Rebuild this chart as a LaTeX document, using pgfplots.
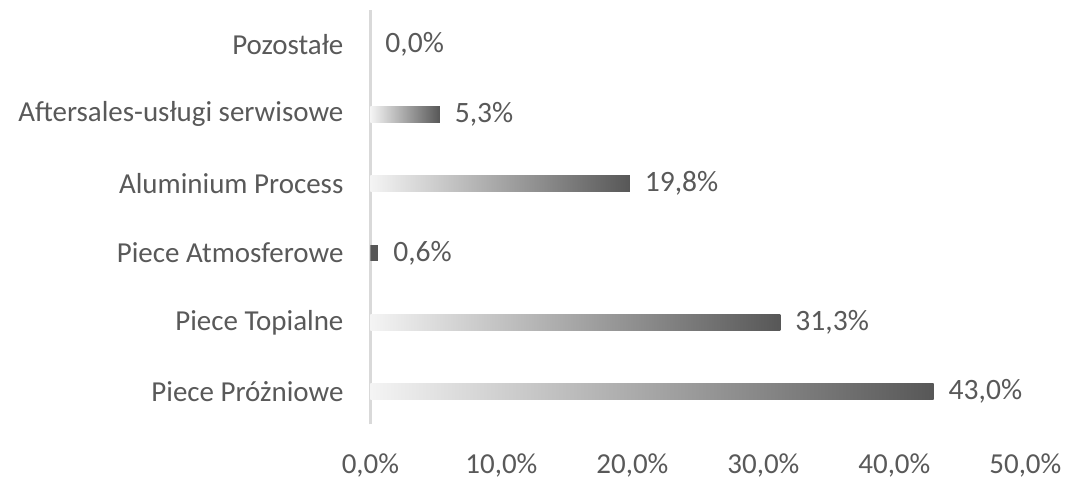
\documentclass[border=0pt]{standalone}
\usepackage{fontspec}
\setmainfont{Carlito}
\usepackage{pgfplots}
\pgfplotsset{compat=1.18}
\definecolor{txt}{HTML}{595959}
\definecolor{axl}{HTML}{D9D9D9}
\definecolor{barL}{HTML}{F4F4F4}
\definecolor{barM}{HTML}{929292}
\definecolor{barR}{HTML}{575757}
\begin{document}
\begin{tikzpicture}
\begin{axis}[
  scale only axis,
  width=328pt, height=207.5pt,
  xmin=0, xmax=50, ymin=-0.47, ymax=5.5,
  xbar, bar width=8pt, bar shift=0pt,
  axis x line*=bottom, axis y line*=left,
  x axis line style={draw=none},
  y axis line style={draw=axl, line width=1.5pt, -},
  major tick length=0pt,
  xtick={0,10,20,30,40,50},
  ytick={0,1,2,3,4,5},
  yticklabels={Piece Próżniowe, Piece Topialne, Piece Atmosferowe, Aluminium Process, Aftersales-usługi serwisowe, Pozostałe},
  font=\fontsize{14.5pt}{17pt}\selectfont,
  tick label style={text=txt},
  /pgf/number format/.cd, assume math mode=true, fixed, fixed zerofill, precision=1, use comma,
  /pgfplots/.cd,
  xticklabel={\pgfmathprintnumber{\tick}\%},
  xticklabel style={yshift=-11pt},
  yticklabel style={xshift=-10pt},
  nodes near coords={\pgfmathprintnumber{\pgfplotspointmeta}\%},
  nodes near coords style={text=txt, font=\fontsize{14.8pt}{17pt}\selectfont, xshift=4pt},
  mybar/.style={draw=none, left color=barL, middle color=barM, right color=barR},
]
\addplot[mybar] coordinates {(43.0,0)};
\addplot[mybar] coordinates {(31.3,1)};
\addplot[draw=none, fill=barR] coordinates {(0.6,2)};
\addplot[mybar] coordinates {(19.8,3)};
\addplot[mybar] coordinates {(5.3,4)};
\addplot[draw=none, fill=none] coordinates {(0.0,5)};
\end{axis}
\useasboundingbox (-185.5pt,-28.5pt) rectangle (348.5pt,212.5pt);
\end{tikzpicture}
\end{document}
